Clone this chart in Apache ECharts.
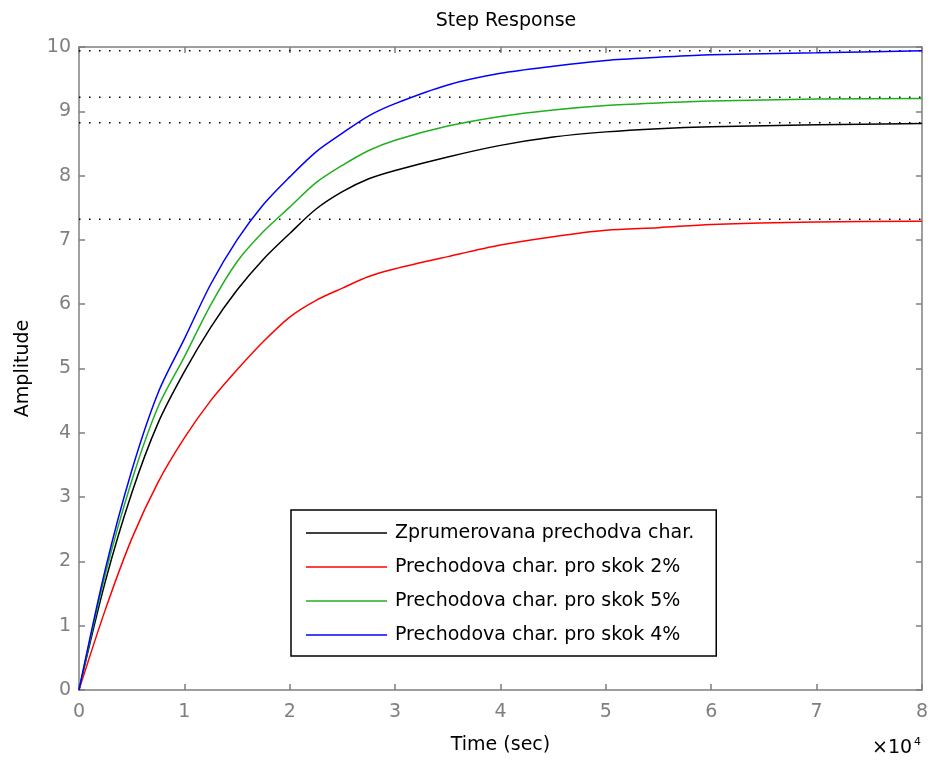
<!DOCTYPE html>
<html>
<head>
<meta charset="utf-8">
<script src="https://cdn.jsdelivr.net/npm/echarts@6.0.0/dist/echarts.min.js"></script>
<style>
  html, body { margin: 0; padding: 0; background: #fff; }
  #chart { width: 931px; height: 764px; }
</style>
</head>
<body>
<div id="chart"></div>
<script>
// time axis in units of 1e4 sec
const timeValues = [0, 0.25, 0.5, 0.75, 1, 1.25, 1.5, 1.75, 2, 2.25, 2.5, 2.75, 3, 3.5, 4, 4.5, 5, 5.5, 6, 7, 8];

// step responses
const avgValues   = [0, 1.69, 3.06, 4.15, 4.95, 5.64, 6.22, 6.70, 7.10, 7.48, 7.75, 7.95, 8.08, 8.29, 8.47, 8.60, 8.68, 8.73, 8.76, 8.79, 8.81];
const step2Values = [0, 1.25, 2.35, 3.23, 3.92, 4.50, 4.98, 5.42, 5.80, 6.06, 6.25, 6.43, 6.55, 6.74, 6.92, 7.05, 7.15, 7.19, 7.24, 7.28, 7.29];
const step5Values = [0, 1.80, 3.25, 4.40, 5.18, 5.99, 6.66, 7.13, 7.51, 7.89, 8.16, 8.39, 8.55, 8.77, 8.92, 9.02, 9.09, 9.13, 9.16, 9.19, 9.20];
const step4Values = [0, 1.88, 3.41, 4.62, 5.46, 6.31, 7.00, 7.55, 7.98, 8.37, 8.66, 8.93, 9.12, 9.41, 9.59, 9.70, 9.79, 9.84, 9.88, 9.91, 9.94];

// steady-state values (dotted lines)
const finalValues = [9.94, 9.22, 8.82, 7.32];

const seriesNames = [
    "Zprumerovana prechodva char.",
    "Prechodova char. pro skok 2%",
    "Prechodova char. pro skok 5%",
    "Prechodova char. pro skok 4%",
];
const seriesColors = ["#000000", "#ff0000", "#1fb01f", "#0000ff"];
const seriesValues = [avgValues, step2Values, step5Values, step4Values];

const axisGray = "#7f7f7f";
const fontFamily = "DejaVu Sans, sans-serif";

const chart = echarts.init(document.getElementById("chart"));

const lineSeries = seriesNames.map((name, i) => ({
    name: name,
    type: "line",
    data: timeValues.map((t, k) => [t, seriesValues[i][k]]),
    showSymbol: false,
    symbol: "none",
    smooth: 0.3,
    lineStyle: { color: seriesColors[i], width: 1.5 },
    itemStyle: { color: seriesColors[i] },
    z: 3,
}));

const dottedSeries = finalValues.map((v, i) => ({
    name: "final" + i,
    type: "line",
    data: [[0, v], [8, v]],
    symbol: "none",
    silent: true,
    lineStyle: { color: "#000", width: 1.5, type: [1.5, 8.5] },
    z: 2,
}));

const axisCommon = {
    min: 0,
    axisLine: { show: true, onZero: false, lineStyle: { color: axisGray, width: 1.5 } },
    axisTick: { show: true, inside: true, length: 6, lineStyle: { color: axisGray, width: 1.5 } },
    splitLine: { show: false },
};

chart.setOption({
    animation: false,
    title: {
        text: "Step Response",
        left: 501,
        textAlign: "center",
        top: 7,
        textStyle: { fontFamily: fontFamily, fontSize: 19, fontWeight: "normal", color: "#000" },
    },
    grid: { left: 79, right: 8, top: 47, bottom: 74 },
    legend: {
        data: seriesNames,
        orient: "vertical",
        left: 291,
        top: 510,
        width: 425,
        padding: [12, 22, 10, 15],
        icon: "rect",
        itemWidth: 81,
        itemHeight: 1.5,
        itemGap: 12,
        borderColor: "#000",
        borderWidth: 1.5,
        backgroundColor: "#fff",
        textStyle: { fontFamily: fontFamily, fontSize: 19, color: "#000", lineHeight: 22, padding: [0, 0, 0, 3] },
    },
    xAxis: [
        Object.assign({}, axisCommon, {
            type: "value",
            max: 8,
            interval: 1,
            name: "Time (sec)",
            nameLocation: "middle",
            nameGap: 46,
            nameTextStyle: { fontFamily: fontFamily, fontSize: 19, color: "#000" },
            axisLabel: { fontFamily: fontFamily, fontSize: 19, color: axisGray, margin: 13 },
        }),
        Object.assign({}, axisCommon, {
            type: "value",
            position: "top",
            max: 8,
            interval: 1,
            axisLabel: { show: false },
        }),
    ],
    yAxis: [
        Object.assign({}, axisCommon, {
            type: "value",
            max: 10,
            interval: 1,
            name: "Amplitude",
            nameLocation: "middle",
            nameGap: 46,
            nameTextStyle: { fontFamily: fontFamily, fontSize: 19, color: "#000" },
            axisLabel: { fontFamily: fontFamily, fontSize: 19, color: axisGray, margin: 8 },
        }),
        Object.assign({}, axisCommon, {
            type: "value",
            position: "right",
            max: 10,
            interval: 1,
            axisLabel: { show: false },
        }),
    ],
    graphic: [
        {
            type: "text",
            left: 872,
            top: 737,
            style: {
                text: "{a|×10}{b|4}",
                rich: {
                    a: { fontFamily: fontFamily, fontSize: 19, color: axisGray },
                    b: { fontFamily: fontFamily, fontSize: 11, color: axisGray, verticalAlign: "top", padding: [0, 0, 12, 2] },
                },
            },
        },
    ],
    series: dottedSeries.concat(lineSeries),
});
</script>
</body>
</html>
